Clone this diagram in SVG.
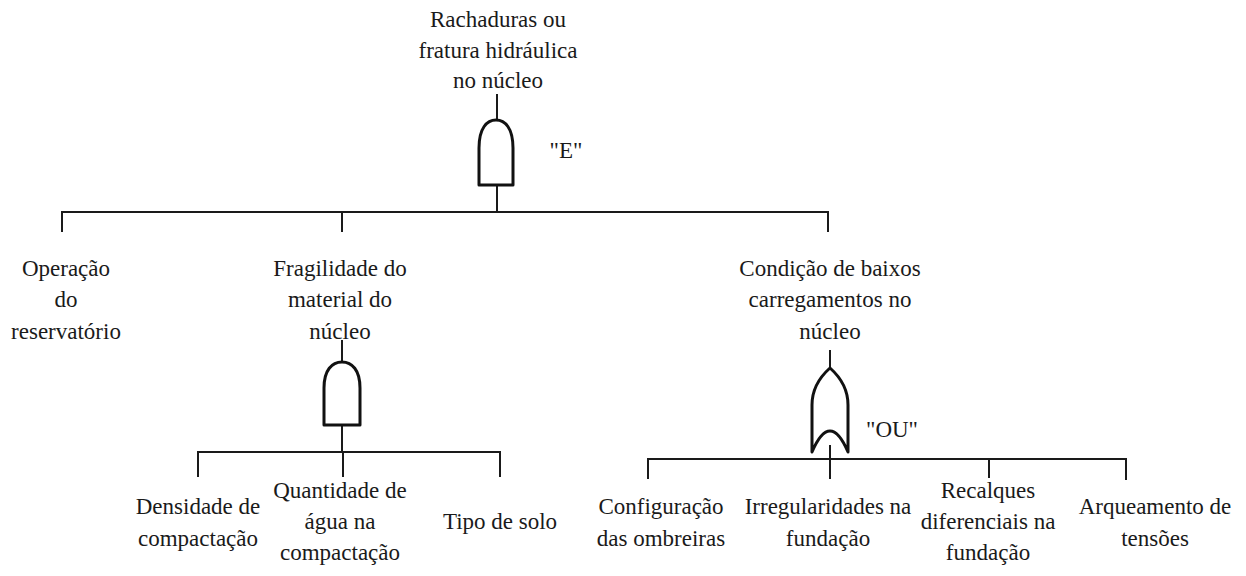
<svg xmlns="http://www.w3.org/2000/svg" width="1246" height="576" viewBox="0 0 1246 576">
<style>
  text { font-size: 23px; fill: #1a1a1a; text-anchor: middle; }
  .line { stroke: #1a1a1a; stroke-width: 2; fill: none; }
  .gate { stroke: #111; stroke-width: 3; fill: #fff; stroke-linejoin: round; }
</style>
<rect width="1246" height="576" fill="#fff"/>
<g id="connectors">
  <line class="line" x1="497" y1="94" x2="497" y2="120"/>
  <line class="line" x1="497" y1="185" x2="497" y2="212"/>
  <line class="line" x1="62" y1="212" x2="828" y2="212"/>
  <line class="line" x1="62" y1="211" x2="62" y2="232"/>
  <line class="line" x1="342" y1="211" x2="342" y2="232"/>
  <line class="line" x1="828" y1="211" x2="828" y2="232"/>
  <line class="line" x1="342" y1="340" x2="342" y2="362"/>
  <line class="line" x1="342" y1="425" x2="342" y2="452"/>
  <line class="line" x1="198" y1="452" x2="500" y2="452"/>
  <line class="line" x1="198" y1="451" x2="198" y2="477"/>
  <line class="line" x1="343" y1="451" x2="343" y2="477"/>
  <line class="line" x1="500" y1="451" x2="500" y2="477"/>
  <line class="line" x1="830" y1="350" x2="830" y2="368"/>
  <line class="line" x1="830" y1="445" x2="830" y2="459"/>
  <line class="line" x1="648" y1="459" x2="1126" y2="459"/>
  <line class="line" x1="648" y1="458" x2="648" y2="479"/>
  <line class="line" x1="830" y1="458" x2="830" y2="479"/>
  <line class="line" x1="989" y1="458" x2="989" y2="478"/>
  <line class="line" x1="1126" y1="458" x2="1126" y2="480"/>
</g>
<g id="top-event">
  <text font-family="Liberation Serif" x="498" y="27">Rachaduras ou</text>
  <text font-family="Liberation Serif" x="498" y="58">fratura hidráulica</text>
  <text font-family="Liberation Serif" x="498" y="88">no núcleo</text>
</g>
<g id="gate-and-1">
  <path class="gate" d="M479,185 V148 C479,128 487,120 496,120 C505,120 513,128 513,148 V185 Z"/>
  <text font-family="Liberation Serif" x="566" y="158">"E"</text>
</g>
<g id="node-operacao">
  <text font-family="Liberation Serif" x="66" y="276">Operação</text>
  <text font-family="Liberation Serif" x="66" y="307">do</text>
  <text font-family="Liberation Serif" x="66" y="339">reservatório</text>
</g>
<g id="node-fragilidade">
  <text font-family="Liberation Serif" x="340" y="276">Fragilidade do</text>
  <text font-family="Liberation Serif" x="340" y="307">material do</text>
  <text font-family="Liberation Serif" x="340" y="339">núcleo</text>
</g>
<g id="node-condicao">
  <text font-family="Liberation Serif" x="830" y="276">Condição de baixos</text>
  <text font-family="Liberation Serif" x="830" y="307">carregamentos no</text>
  <text font-family="Liberation Serif" x="830" y="339">núcleo</text>
</g>
<g id="gate-and-2">
  <path class="gate" d="M324,425 V388 C324,370 332,362 342,362 C352,362 360,370 360,388 V425 Z"/>
</g>
<g id="gate-or">
  <path class="gate" d="M812,452 V405 C812,387 821,376 830,368 C839,376 848,387 848,405 V452 Q830,410 812,452 Z"/>
  <text font-family="Liberation Serif" x="892" y="437">"OU"</text>
</g>
<g id="node-densidade">
  <text font-family="Liberation Serif" x="198" y="514">Densidade de</text>
  <text font-family="Liberation Serif" x="198" y="546">compactação</text>
</g>
<g id="node-quantidade">
  <text font-family="Liberation Serif" x="340" y="498">Quantidade de</text>
  <text font-family="Liberation Serif" x="340" y="529">água na</text>
  <text font-family="Liberation Serif" x="340" y="560">compactação</text>
</g>
<g id="node-tipo">
  <text font-family="Liberation Serif" x="500" y="529">Tipo de solo</text>
</g>
<g id="node-configuracao">
  <text font-family="Liberation Serif" x="661" y="514">Configuração</text>
  <text font-family="Liberation Serif" x="661" y="546">das ombreiras</text>
</g>
<g id="node-irregularidades">
  <text font-family="Liberation Serif" x="828" y="514">Irregularidades na</text>
  <text font-family="Liberation Serif" x="828" y="546">fundação</text>
</g>
<g id="node-recalques">
  <text font-family="Liberation Serif" x="988" y="498">Recalques</text>
  <text font-family="Liberation Serif" x="988" y="529">diferenciais na</text>
  <text font-family="Liberation Serif" x="988" y="560">fundação</text>
</g>
<g id="node-arqueamento">
  <text font-family="Liberation Serif" x="1155" y="514">Arqueamento de</text>
  <text font-family="Liberation Serif" x="1155" y="546">tensões</text>
</g>
</svg>
